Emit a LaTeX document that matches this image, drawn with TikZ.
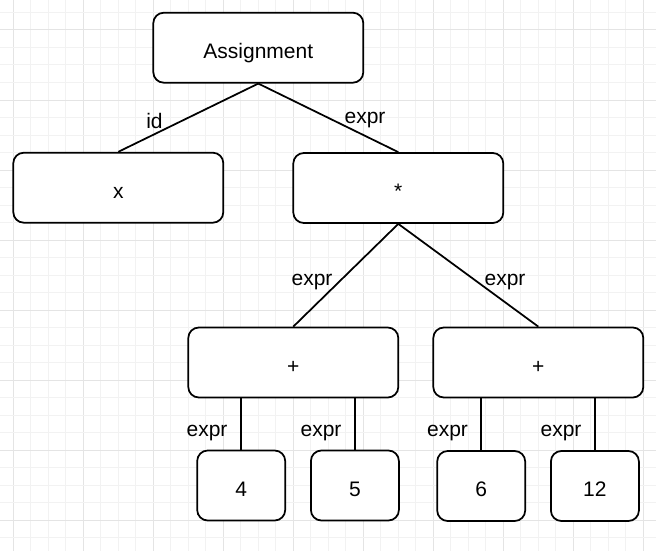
\documentclass[tikz,border=0pt]{standalone}
\usepackage{fontspec}
\setmainfont{Liberation Sans}
\definecolor{gridminor}{HTML}{F2F2F2}
\definecolor{gridmajor}{HTML}{E4E4E4}
\begin{document}
\begin{tikzpicture}[x=1pt,y=-1pt,
  treebox/.style={draw=black, line width=1.75pt, rounded corners=10.5pt, fill=white,
    inner sep=0pt, text height=21.6pt, text depth=0pt,
    font=\fontsize{21}{25}\selectfont},
  widebox/.style={treebox, minimum width=210pt, minimum height=70pt},
  smallbox/.style={treebox, minimum width=88pt, minimum height=70pt},
  edgelbl/.style={anchor=base, inner sep=0pt, font=\fontsize{21}{25}\selectfont},
  conn/.style={draw=black, line width=1.75pt}]
\useasboundingbox (0,0) rectangle (656,551);
\fill[white] (0,0) rectangle (656,551);
% grid
\foreach \i in {0,...,37} {
  \pgfmathtruncatemacro{\m}{mod(\i,4)}
  \ifnum\m=0 \draw[gridmajor, line width=1pt] (13.3+17.5*\i,0) -- (13.3+17.5*\i,551);
  \else \draw[gridminor, line width=1pt] (13.3+17.5*\i,0) -- (13.3+17.5*\i,551); \fi
}
\foreach \j in {0,...,31} {
  \pgfmathtruncatemacro{\m}{mod(\j,4)}
  \ifnum\m=1 \draw[gridmajor, line width=1pt] (0,12.5+17.5*\j) -- (656,12.5+17.5*\j);
  \else \draw[gridminor, line width=1pt] (0,12.5+17.5*\j) -- (656,12.5+17.5*\j); \fi
}
% nodes
\node[widebox] (assign) at (258.3,47.7) {Assignment};
\node[widebox] (xid) at (118.3,187.7) {x};
\node[widebox] (star) at (398.3,188) {*};
\node[widebox] (plusL) at (293.3,362.5) {+};
\node[widebox] (plusR) at (538.3,362.5) {+};
\node[smallbox] (n4) at (241.2,485.5) {4};
\node[smallbox] (n5) at (354.9,485.5) {5};
\node[smallbox] (n6) at (481.2,486) {6};
\node[smallbox] (n12) at (594.9,486) {12};
% connectors
\draw[conn] (assign.south) -- (xid.north);
\draw[conn] (assign.south) -- (star.north);
\draw[conn] (star.south) -- (plusL.north);
\draw[conn] (star.south) -- (plusR.north);
\draw[conn] (n4.north) -- (n4.north |- plusL.south);
\draw[conn] (n5.north) -- (n5.north |- plusL.south);
\draw[conn] (n6.north) -- (n6.north |- plusR.south);
\draw[conn] (n12.north) -- (n12.north |- plusR.south);
% edge labels
\node[edgelbl] (lid) at (154.5,128) {id};
\node[edgelbl] (lexpr1) at (365,123.5) {expr};
\node[edgelbl] (lexpr2) at (312,285) {expr};
\node[edgelbl] (lexpr3) at (505,285) {expr};
\node[edgelbl] (lexpr4) at (207,436.7) {expr};
\node[edgelbl] (lexpr5) at (321,436.7) {expr};
\node[edgelbl] (lexpr6) at (447.5,436.7) {expr};
\node[edgelbl] (lexpr7) at (561,436.7) {expr};
\end{tikzpicture}
\end{document}
